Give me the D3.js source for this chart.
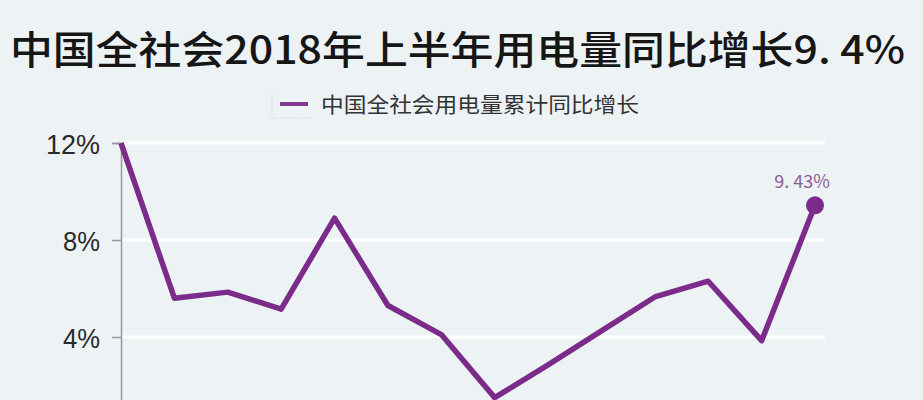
<!DOCTYPE html>
<html>
<head>
  <meta charset="utf-8">
  <script src="https://d3js.org/d3.v7.min.js"></script>
  <style>
    body { margin: 0; background: #edf2f5; }
    svg { display: block; font-family: "Noto Sans CJK SC", "Noto Sans", sans-serif; }
  </style>
</head>
<body>
  <div id="my_dataviz"></div>
  <script>
    // data (cumulative y/y growth, %)
    var months = ["2017-05", "2017-06", "2017-07", "2017-08", "2017-09", "2017-10", "2017-11",
      "2017-12", "2018-01", "2018-02", "2018-03", "2018-04", "2018-05", "2018-06"];
    var growth = [12.0, 5.6, 5.85, 5.15, 8.9, 5.3, 4.1, 1.5, 2.85, 4.25, 5.65, 6.3, 3.85, 9.43];
    var yTicks = [4, 8, 12];
    var seriesName = "中国全社会用电量累计同比增长";
    var titleText = "中国全社会2018年上半年用电量同比增长9. 4%";
    var lastLabel = "9. 43%";

    var W = 923, H = 400;
    var margin = { top: 143, left: 121, right: 98, bottom: -34 };
    var width = W - margin.left - margin.right,
      height = H - margin.top - margin.bottom;

    var svg = d3.select("#my_dataviz")
      .append("svg")
      .attr("width", W)
      .attr("height", H);

    svg.append("rect").attr("width", W).attr("height", H).attr("fill", "#edf2f5");

    // title
    svg.append("text")
      .attr("x", 10)
      .attr("y", 64)
      .style("font-size", "39px")
      .style("font-weight", "500")
      .style("fill", "#161616")
      .attr("textLength", 895)
      .attr("lengthAdjust", "spacingAndGlyphs")
      .text(titleText);

    // legend
    var leg = svg.append("g");
    leg.append("path")
      .attr("d", "M272,93 V118 H313")
      .attr("fill", "none")
      .attr("stroke", "#c2c7ce")
      .attr("stroke-width", 1)
      .attr("stroke-dasharray", "1,2");
    leg.append("line")
      .attr("x1", 280).attr("x2", 308)
      .attr("y1", 104).attr("y2", 104)
      .attr("stroke", "#7d3a8e")
      .attr("stroke-width", 4);
    leg.append("text")
      .attr("x", 321)
      .attr("y", 112)
      .style("font-size", "21px")
      .style("fill", "#333")
      .attr("textLength", 318)
      .attr("lengthAdjust", "spacingAndGlyphs")
      .text(seriesName);

    var g = svg.append("g")
      .attr("transform", "translate(" + margin.left + "," + margin.top + ")");

    var x = d3.scalePoint()
      .domain(months)
      .range([0, 694]);

    var y = d3.scaleLinear()
      .domain([0, 12])
      .range([height, 0]);

    // grid lines
    g.selectAll(".grid")
      .data(yTicks)
      .enter()
      .append("line")
      .attr("x1", 0)
      .attr("x2", width)
      .attr("y1", function (d) { return y(d) })
      .attr("y2", function (d) { return y(d) })
      .attr("stroke", "#ffffff")
      .attr("stroke-width", 3);

    // y axis
    var yAxis = g.append("g")
      .call(d3.axisLeft(y).tickValues(yTicks).tickSize(9).tickPadding(12)
        .tickFormat(function (d) { return d + "%" }));
    yAxis.select(".domain").attr("stroke", "#999").attr("stroke-width", 1.5);
    yAxis.selectAll(".tick line").attr("stroke", "#999").attr("stroke-width", 1.5);
    yAxis.selectAll(".tick text")
      .style("font-size", "28px")
      .style("fill", "#2a2a2a")
      .style("font-family", "'Liberation Sans', Arial, sans-serif")
      .attr("textLength", function (d) { return d >= 10 ? 54 : 37 })
      .attr("lengthAdjust", "spacingAndGlyphs")
      .attr("dy", "0.36em");

    // the line
    var line = d3.line()
      .x(function (d, i) { return x(months[i]) })
      .y(function (d) { return y(d) });

    g.append("path")
      .datum(growth)
      .attr("d", line)
      .attr("fill", "none")
      .attr("stroke", "#7b2c8b")
      .attr("stroke-width", 5.5)
      .attr("stroke-linejoin", "round");

    // last point + label
    var lastI = growth.length - 1;
    g.append("circle")
      .attr("cx", x(months[lastI]))
      .attr("cy", y(growth[lastI]))
      .attr("r", 9)
      .attr("fill", "#7b2c8b");

    g.append("text")
      .attr("x", x(months[lastI]) - 13)
      .attr("y", y(growth[lastI]) - 17)
      .attr("text-anchor", "middle")
      .style("font-size", "18px")
      .style("fill", "#8a5d92")
      .text(lastLabel);
  </script>
</body>
</html>
